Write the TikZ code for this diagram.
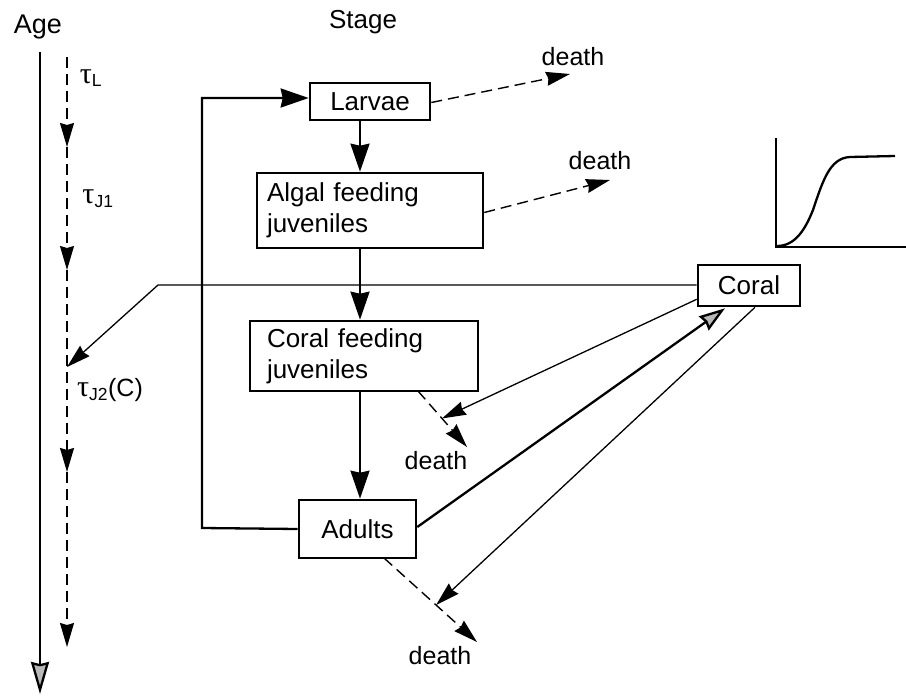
\documentclass[tikz,border=0pt]{standalone}
\usepackage{fontspec}
\setmainfont{Liberation Sans}
\newfontfamily\greekfont{Liberation Serif}
\usetikzlibrary{arrows.meta,calc}
\newcommand{\bigtau}{{\greekfont\fontsize{30}{30}\selectfont τ}}
\begin{document}
\begin{tikzpicture}[x=1pt,y=-1pt,
  boxfont/.style={font=\fontsize{26}{31}\selectfont},
  lblfont/.style={font=\fontsize{25}{30}\selectfont},
  stagebox/.style={draw,line width=2.6pt,inner sep=0pt,boxfont},
  main/.style={line width=2.3pt},
  thin/.style={line width=1.3pt},
  dsh/.style={line width=1.4pt,dash pattern=on 11pt off 6pt},
  bigtip/.style={-{Stealth[length=28pt,width=19pt,inset=2pt]}},
  smalltip/.style={-{Stealth[length=24pt,width=14pt,inset=2pt]}},
  graytip/.style={-{Stealth[length=26pt,width=17pt,inset=2pt,fill=gray!55]}},
  plain/.style={inner sep=0pt,lblfont}
]
\useasboundingbox (0,0) rectangle (906,696);

% Age axis
\node[plain,font=\fontsize{27}{30}\selectfont] (age) at (38,27) {Age};
\coordinate (ageTop) at (40,52);
\coordinate (ageBot) at (40,694);
\draw[main,-{Stealth[length=32pt,width=18pt,inset=2pt,fill=gray!55]}] (ageTop) -- (ageBot);

\coordinate (d0) at (67,57);
\coordinate (d1) at (67,147);
\coordinate (d2) at (67,270);
\coordinate (d3) at (67,367);
\coordinate (d4) at (67,472);
\coordinate (d5) at (67,647);
\draw[dsh,smalltip] (d0) -- (d1);
\draw[dsh,smalltip] (d1) -- (d2);
\draw[dsh,smalltip] (d2) -- (d4);
\draw[dsh,smalltip] (d4) -- (d5);
\node[plain] (tl) at (91,78) {\bigtau\textsubscript{L}};
\node[plain] (tj1) at (98,199) {\bigtau\textsubscript{J1}};
\node[plain] (tj2) at (110,390) {\bigtau\textsubscript{J2}(C)};

% Stage column
\node[plain,font=\fontsize{26}{30}\selectfont] (stage) at (363,22) {Stage};
\coordinate (spine) at (360,0);
\node[stagebox,minimum width=120pt,minimum height=37pt] (larvae) at (370,101.5) {Larvae};
\node[stagebox,minimum width=226pt,minimum height=75pt,text width=206pt,inner xsep=10pt,align=left] (algal) at (370,210.5) {Algal feeding\\juveniles};
\node[stagebox,minimum width=228pt,minimum height=70pt,text width=194pt,inner xsep=17pt,align=left] (cfeed) at (364,356) {Coral feeding\\juveniles};
\node[stagebox,minimum width=117pt,minimum height=58pt] (adults) at (357.5,529) {Adults};
\node[stagebox,minimum width=102pt,minimum height=41pt] (coral) at (749,285.5) {Coral};

\draw[main,bigtip] (larvae.south -| spine) -- (algal.north -| spine);
\draw[main,bigtip] (algal.south -| spine) -- (cfeed.north -| spine);
\draw[main,bigtip] (cfeed.south -| spine) -- (adults.north -| spine);

% reproduction loop
\coordinate (loopA) at (202,528);
\coordinate (loopB) at (202,98);
\draw[main,bigtip] (adults.west) -- (loopA) -- (loopB) -- (larvae.west |- loopB);

% deaths
\node[plain] (death1) at (573,57) {death};
\node[plain] (death2) at (600,161) {death};
\node[plain] (death3) at (436,461) {death};
\node[plain] (death4) at (440,656) {death};
\coordinate (t1) at (570,74);
\coordinate (t2) at (610,180);
\coordinate (t3) at (467,447);
\coordinate (t4) at (477,642);
\draw[dsh,smalltip] ($(larvae.east)+(0,1)$) -- (t1);
\draw[dsh,smalltip] ($(algal.east)+(0,2)$) -- (t2);
\coordinate (c3) at (418,391);
\draw[dsh,smalltip] (c3) -- (t3);
\coordinate (c4) at (384,558);
\draw[dsh,smalltip] (c4) -- (t4);
\coordinate (m3) at ($(c3)!0.49!(t3)$);
\coordinate (m4) at ($(c4)!0.56!(t4)$);

% coral effects
\coordinate (bend) at (158,285);
\draw[thin,smalltip] (coral.west |- bend) -- (bend) -- (d3);
\draw[thin,smalltip] ($(coral.south west)+(0,-8)$) -- (m3);
\draw[thin,smalltip] ($(coral.south)+(6,0)$) -- (m4);
\draw[line width=2.3pt,graytip] ($(adults.east)+(0,-2)$) -- ($(coral.south)+(-24,1)$);

% sigmoid inset
\coordinate (axTop) at (776,138);
\coordinate (axO) at (776,247);
\coordinate (axR) at (906,247);
\draw[main] (axTop) -- (axO) -- (axR);
\draw[main] (777,246) .. controls (795,246) and (805,230) .. (813,210) .. controls (823,180) and (830,158) .. (850,157) -- (895,156);
\end{tikzpicture}
\end{document}
